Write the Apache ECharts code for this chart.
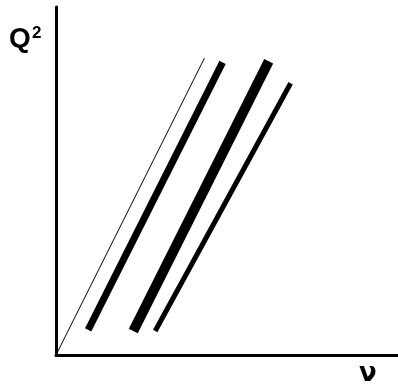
<!DOCTYPE html>
<html>
<head>
<meta charset="utf-8">
<script src="https://cdn.jsdelivr.net/npm/echarts@6/dist/echarts.min.js"></script>
<style>
html, body { margin: 0; padding: 0; background: #fff; }
#chart { width: 398px; height: 392px; }
</style>
</head>
<body>
<div id="chart"></div>
<script>
// line segments (arbitrary units, axes 0..10)
var lineA = [[0, 0], [4.34, 8.53]];        // thin, from origin
var lineB = [[0.94, 0.72], [4.87, 8.41]];  // thick
var lineC = [[2.26, 0.69], [6.22, 8.44]];  // thickest
var lineD = [[2.90, 0.69], [6.86, 7.81]];  // medium
var lineWidths = [1, 7, 10, 5];

var myChart = echarts.init(document.getElementById('chart'));

function seg(data, w) {
    return {
        type: 'line',
        data: data,
        symbol: 'none',
        silent: true,
        animation: false,
        lineStyle: { color: '#000', width: w, cap: 'butt' }
    };
}

myChart.setOption({
    animation: false,
    grid: { left: 56, top: 7, right: 0, bottom: 37 },
    xAxis: {
        type: 'value',
        min: 0,
        max: 10,
        axisLine: { show: true, onZero: false, lineStyle: { color: '#000', width: 3 } },
        axisTick: { show: false },
        axisLabel: { show: false },
        splitLine: { show: false }
    },
    yAxis: {
        type: 'value',
        min: 0,
        max: 10,
        axisLine: { show: true, onZero: false, lineStyle: { color: '#000', width: 3 } },
        axisTick: { show: false },
        axisLabel: { show: false },
        splitLine: { show: false }
    },
    graphic: [
        {
            type: 'text',
            left: 9,
            top: 25,
            style: {
                text: 'Q',
                fontFamily: 'Liberation Sans',
                fontWeight: 'bold',
                fontSize: 28,
                fill: '#000'
            }
        },
        {
            type: 'text',
            left: 32,
            top: 25,
            style: {
                text: '2',
                fontFamily: 'Liberation Sans',
                fontWeight: 'bold',
                fontSize: 17,
                fill: '#000'
            }
        },
        {
            type: 'text',
            left: 359,
            top: 361,
            style: {
                text: 'ν',
                fontFamily: 'DejaVu Sans',
                fontWeight: 'bold',
                fontSize: 26,
                fill: '#000'
            }
        }
    ],
    series: [
        seg(lineA, lineWidths[0]),
        seg(lineB, lineWidths[1]),
        seg(lineC, lineWidths[2]),
        seg(lineD, lineWidths[3])
    ]
});
</script>
</body>
</html>
